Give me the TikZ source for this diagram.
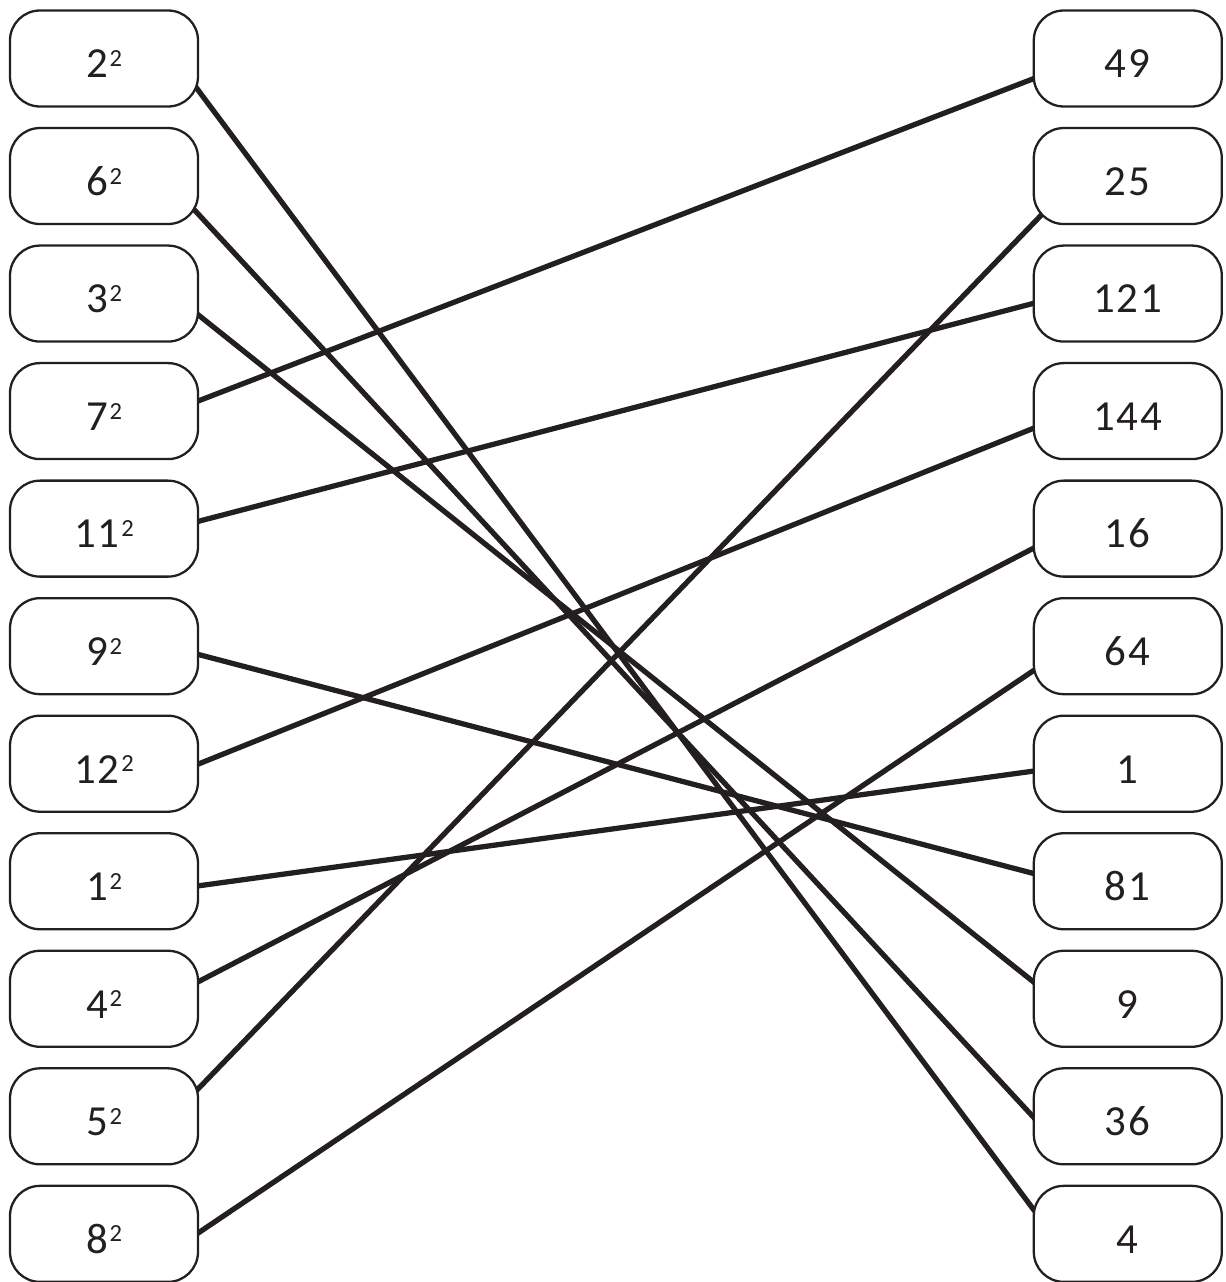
\documentclass[tikz,border=0pt]{standalone}
\usepackage{fontspec}
\setmainfont[LetterSpace=5]{Carlito}
\usepackage{xcolor}
\usepackage{tikz}
\usetikzlibrary{positioning}
\pgfdeclarelayer{background}
\pgfsetlayers{background,main}
\definecolor{ink}{HTML}{231F20}
\newcommand{\sqnum}[1]{#1\hspace{1pt}\raisebox{6.4pt}{\fontsize{14}{14}\selectfont 2}}

\begin{document}
\begin{tikzpicture}[
    node distance=0.385cm,
    box/.style={rectangle, rounded corners=0.6cm, draw=ink, line width=1.3pt, fill=white, minimum width=3.76cm, minimum height=1.92cm, text=ink, text height=22pt, text depth=0pt, font=\fontsize{24.4}{29}\selectfont},
    link/.style={draw=ink, line width=3pt, shorten <=-0.4cm, shorten >=-0.4cm}
]
    \useasboundingbox (0,0) rectangle (24.52,-25.64);

    \node (p2) [box] at (2.08,-1.17) {\sqnum{2}};
    \node (p6) [box, below=of p2] {\sqnum{6}};
    \node (p3) [box, below=of p6] {\sqnum{3}};
    \node (p7) [box, below=of p3] {\sqnum{7}};
    \node (p11) [box, below=of p7] {\sqnum{11}};
    \node (p9) [box, below=of p11] {\sqnum{9}};
    \node (p12) [box, below=of p9] {\sqnum{12}};
    \node (p1) [box, below=of p12] {\sqnum{1}};
    \node (p4) [box, below=of p1] {\sqnum{4}};
    \node (p5) [box, below=of p4] {\sqnum{5}};
    \node (p8) [box, below=of p5] {\sqnum{8}};

    \node (v49) [box, right=16.67cm of p2] {49};
    \node (v25) [box, below=of v49] {25};
    \node (v121) [box, below=of v25] {121};
    \node (v144) [box, below=of v121] {144};
    \node (v16) [box, below=of v144] {16};
    \node (v64) [box, below=of v16] {64};
    \node (v1) [box, below=of v64] {1};
    \node (v81) [box, below=of v1] {81};
    \node (v9) [box, below=of v81] {9};
    \node (v36) [box, below=of v9] {36};
    \node (v4) [box, below=of v36] {4};

    \begin{pgfonlayer}{background}
    \draw [link] ([yshift=-0.66cm]p2.east) -- ([yshift=0.51cm]v4.west);
    \draw [link] ([yshift=-0.78cm]p6.east) -- (v36.west);
    \draw [link] ([yshift=-0.44cm]p3.east) -- ([yshift=0.35cm]v9.west);
    \draw [link] ([yshift=0.21cm]p7.east) -- ([yshift=-0.41cm]v49.west);
    \draw [link] ([yshift=0.15cm]p11.east) -- ([yshift=-0.20cm]v121.west);
    \draw [link] ([yshift=-0.17cm]p9.east) -- ([yshift=0.16cm]v81.west);
    \draw [link] (p12.east) -- ([yshift=-0.35cm]v144.west);
    \draw [link] ([yshift=-0.09cm]p1.east) -- ([yshift=-0.15cm]v1.west);
    \draw [link] ([yshift=0.35cm]p4.east) -- ([yshift=-0.40cm]v16.west);
    \draw [link] ([yshift=0.57cm]p5.east) -- ([yshift=-0.96cm]v25.west);
    \draw [link] ([yshift=0.03cm]p8.east) -- ([yshift=-0.50cm]v64.west);
    \end{pgfonlayer}
\end{tikzpicture}
\end{document}
